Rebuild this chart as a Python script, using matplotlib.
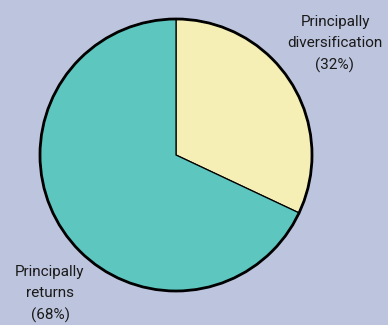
import matplotlib.pyplot as plt
from matplotlib.patches import Circle, Wedge

# Data
labels = ["Principally\ndiversification\n(32%)", "Principally\nreturns\n(68%)"]
shares = [32, 68]
colors = ["#f5eeb5", "#5dc6bf"]
bg = "#bdc4dd"

fig = plt.figure(figsize=(3.88, 3.25), dpi=100, facecolor=bg)
ax = fig.add_axes([0, 0, 1, 1])
ax.set_facecolor(bg)

# Pie drawn clockwise from 12 o'clock, in pixel-like coordinates (y down)
cx, cy, r = 176, 155, 136
start = 90
for s, c in zip(shares, colors):
    sweep = s / sum(shares) * 360
    ax.add_patch(Wedge((cx, cy), r, -start, -start + sweep, facecolor=c,
                       edgecolor="black", linewidth=0.9))
    start -= sweep
ax.add_patch(Circle((cx, cy), r, fill=False, edgecolor="black", linewidth=2))

ax.set_xlim(0, 388)
ax.set_ylim(325, 0)
ax.set_aspect("equal")
ax.axis("off")

font = dict(family="Roboto", fontsize=11, color="#1a1a1a",
            ha="center", va="center", linespacing=1.6)
ax.text(335, 44, labels[0], **font)
ax.text(50, 294, labels[1], **font)

fig.savefig("out.png", dpi=100, facecolor=bg)
